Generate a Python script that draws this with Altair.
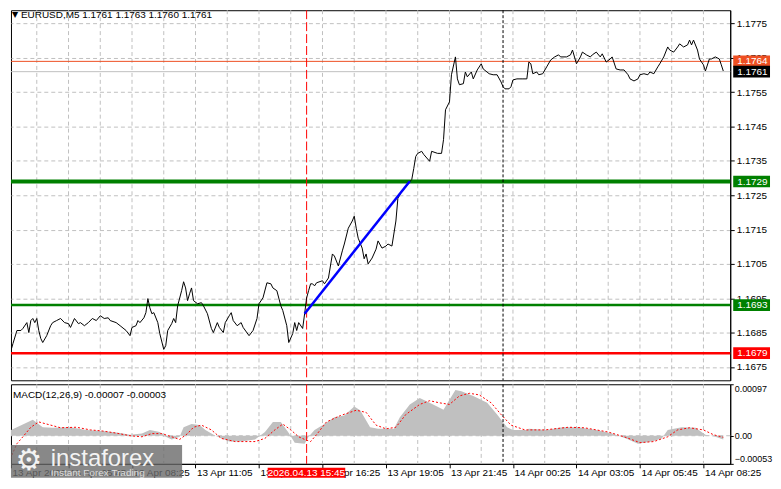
import altair as alt
import pandas as pd

# ---------------- data ----------------
price_bar = [0,2,3,5,7,8,10,11,12,13,14,15,16,17,18,20,22,23,25,27,29,31,32,34,36,37,39,41,43,45,47,49,51,52,55,57,60,62,63,65,66,67,69,70,71,72,73,74,76,77,79,80,81,83,84,85,86,88,89,90,91,92,93,94,96,98,99,101,103,104,106,107,109,110,112,113,114,116,118,119,122,124,126,127,129,131,133,134,136,138,139,141,142,144,145,146,147,149,150,151,152,153,154,155,156,159,160,162,164,165,167,169,170,172,174,175,176,177,179,180,181,182,184,186,187,189,191,192,194,196,197,199,200,202,204,205,206,207,209,210,213,214,217,219,220,221,223,224,226,227,228,230,231,232,234,235,237,239,240,243,245,247,249,250,251,253,254,255,257,260,262,263,264,265,267,268,270,272,274,276,278,279,282,284,285,287,289,290,292,294,295,297,299,300,302,304,305,307,309,311,313,314,316,318,319,321,323,324,326,328,329,331,333,334,336,338,339,341,343,344,345,346,348,349,351,352,354,355,357,359,360,361]
price_close = [1.16783,1.16798,1.16818,1.16856,1.16856,1.16862,1.16879,1.16850,1.16885,1.16891,1.16879,1.16891,1.16856,1.16833,1.16821,1.16841,1.16870,1.16879,1.16885,1.16891,1.16879,1.16876,1.16865,1.16891,1.16876,1.16879,1.16870,1.16879,1.16891,1.16885,1.16899,1.16891,1.16893,1.16885,1.16879,1.16870,1.16856,1.16841,1.16865,1.16870,1.16885,1.16879,1.16893,1.16908,1.16949,1.16922,1.16905,1.16908,1.16879,1.16847,1.16801,1.16812,1.16856,1.16876,1.16891,1.16879,1.16928,1.16972,1.16998,1.16980,1.16943,1.16963,1.16980,1.16943,1.16934,1.16937,1.16928,1.16905,1.16862,1.16850,1.16879,1.16865,1.16850,1.16879,1.16899,1.16908,1.16885,1.16870,1.16879,1.16865,1.16841,1.16856,1.16891,1.16934,1.16951,1.16995,1.16992,1.16980,1.16972,1.16928,1.16914,1.16870,1.16821,1.16847,1.16879,1.16856,1.16879,1.16862,1.16905,1.16951,1.16972,1.16992,1.16992,1.16986,1.16995,1.17001,1.16992,1.17009,1.17079,1.17073,1.17044,1.17088,1.17108,1.17154,1.17175,1.17189,1.17154,1.17125,1.17096,1.17065,1.17079,1.17050,1.17067,1.17093,1.17117,1.17096,1.17102,1.17108,1.17102,1.17175,1.17241,1.17262,1.17267,1.17282,1.17296,1.17328,1.17363,1.17372,1.17378,1.17369,1.17349,1.17378,1.17372,1.17372,1.17412,1.17499,1.17522,1.17601,1.17653,1.17589,1.17572,1.17575,1.17609,1.17595,1.17609,1.17589,1.17615,1.17633,1.17618,1.17604,1.17601,1.17601,1.17580,1.17566,1.17560,1.17560,1.17566,1.17586,1.17589,1.17589,1.17589,1.17638,1.17633,1.17604,1.17609,1.17601,1.17604,1.17624,1.17644,1.17653,1.17659,1.17653,1.17653,1.17659,1.17673,1.17633,1.17653,1.17667,1.17659,1.17653,1.17659,1.17667,1.17653,1.17662,1.17638,1.17647,1.17653,1.17618,1.17615,1.17615,1.17601,1.17589,1.17583,1.17589,1.17601,1.17604,1.17601,1.17609,1.17604,1.17624,1.17633,1.17653,1.17682,1.17673,1.17667,1.17682,1.17691,1.17682,1.17688,1.17702,1.17688,1.17702,1.17673,1.17647,1.17630,1.17612,1.17647,1.17647,1.17653,1.17647,1.17630,1.17612]

hist_bar = [0,5,13,18,23,32,40,48,57,62,68,72,77,80,83,87,89,93,97,100,105,112,118,125,130,134,138,142,145,150,152,155,160,165,170,175,178,183,187,195,198,203,208,213,220,223,226,229,235,242,247,252,255,262,263,272,280,288,297,305,312,318,325,330,333,340,347,352,357,361]
hist_val = [0.00007,0.00016,0.00030,0.00016,0.00015,0.00016,0.00011,0.00009,0.00005,0.00002,0.00004,0.00011,0.00007,-0.00002,-0.00007,-0.00002,0.00016,0.00022,0.00020,0.00011,0.0,-0.00011,-0.00011,-0.00007,0.00007,0.00026,0.00026,0.00005,-0.00013,-0.00015,-0.00002,0.00011,0.00022,0.00035,0.00038,0.00055,0.00048,0.00016,0.00013,0.00013,0.00035,0.00059,0.00071,0.00062,0.00049,0.00068,0.00086,0.00084,0.00075,0.00062,0.00040,0.00016,0.00011,0.00011,0.00013,0.00011,0.00016,0.00016,0.00011,0.00004,-0.00005,-0.00015,-0.00011,-0.00005,0.00011,0.00016,0.00015,0.00002,-0.00002,-0.00007]

sig_bar = [0,5,8,12,16,20,27,35,42,48,55,62,68,73,78,83,87,91,94,98,103,108,115,125,130,135,139,143,147,150,153,156,161,168,176,181,186,191,196,201,208,213,218,223,228,233,238,244,249,254,261,271,283,291,303,311,319,326,333,338,344,351,356,361]
sig_val = [-0.00057,-0.00015,-0.00002,0.00016,0.00026,0.00022,0.00015,0.00016,0.00011,0.00009,0.00005,0.0,-0.00002,0.00004,0.00004,-0.00002,-0.00007,0.00004,0.00016,0.00020,0.00011,-0.00005,-0.00011,-0.00011,-0.00005,0.00011,0.00022,0.00011,-0.00002,-0.00007,-0.00011,0.00002,0.00026,0.00038,0.00048,0.00044,0.00020,0.00013,0.00016,0.00040,0.00059,0.00066,0.00062,0.00059,0.00075,0.00080,0.00077,0.00062,0.00040,0.00020,0.00011,0.00011,0.00016,0.00015,0.00007,-0.00002,-0.00013,-0.00011,-0.00002,0.00011,0.00015,0.00011,0.00002,-0.00003]

blue_bar = [150, 203]
blue_price = [1.16905, 1.17291]

price_ticks = [1.1675, 1.1685, 1.1695, 1.1705, 1.1715, 1.1725, 1.1735, 1.1745, 1.1755, 1.1765, 1.1775]
macd_ticks = [-0.00053, 0.0, 0.00097]

level_values = [1.1764, 1.1761, 1.1729, 1.1693, 1.1679]
level_labels = ["1.1764", "1.1761", "1.1729", "1.1693", "1.1679"]
level_colors = ["#EE4F22", "#C0C0C0", "#008000", "#008000", "#FF0000"]
level_box_colors = ["#EE4F22", "#000000", "#008000", "#008000", "#FF0000"]
level_widths = [1, 1, 4, 2.5, 2.5]

x_tick_bars = [2, 31, 63, 95, 127, 159, 191, 223, 255, 287, 319, 351]
x_tick_labels = ["13 Apr 2026", "13 Apr 05:45", "13 Apr 08:25", "13 Apr 11:05", "13 Apr 13:45",
                 "13 Apr 16:25", "13 Apr 19:05", "13 Apr 21:45", "14 Apr 00:25", "14 Apr 03:05",
                 "14 Apr 05:45", "14 Apr 08:25"]
grid_bars = [15, 31, 47, 63, 79, 95, 111, 127, 143, 159, 175, 191, 207, 223, 239, 255, 271, 287, 303, 319, 335, 351]
event_bar_red = [151]
event_bar_day = [250]

title_text = "EURUSD,M5  1.1761 1.1763 1.1760 1.1761"
macd_title = "MACD(12,26,9) -0.00007 -0.00003"
time_label = "2026.04.13 15:45"

# ---------------- layout ----------------
W = 723
H_MAIN = 372
H_MACD = 80
FONT = "Liberation Sans"

xs = alt.Scale(domain=[2, 364.5], nice=False, zero=False)
ys_main = alt.Scale(domain=[1.16711, 1.17789], nice=False, zero=False)
ys_macd = alt.Scale(domain=[-0.00053, 0.00097], nice=False, zero=False)

price_df = pd.DataFrame({"bar": price_bar, "close": price_close})
hist_df = pd.DataFrame({"bar": hist_bar, "v": hist_val})
sig_df = pd.DataFrame({"bar": sig_bar, "v": sig_val})
blue_df = pd.DataFrame({"bar": blue_bar, "close": blue_price})
grid_df = pd.DataFrame({"bar": grid_bars})
red_df = pd.DataFrame({"bar": event_bar_red})
day_df = pd.DataFrame({"bar": event_bar_day})
level_df = pd.DataFrame({"value": level_values, "label": level_labels, "color": level_colors,
                         "box": level_box_colors, "w": level_widths})

main_axis = alt.Axis(orient="right", values=price_ticks, format=".4f", grid=True, gridColor="#c0c0c0",
                     gridDash=[4, 3], tickSize=4, tickColor="black", domainColor="black",
                     labelPadding=2, labelFontSize=10, labelFont=FONT, labelColor="black", title=None)

label_js = "[" + ",".join("'" + s + "'" for s in x_tick_labels) + "]"
vals_js = "[" + ",".join(str(v) for v in x_tick_bars) + "]"
x_axis = alt.Axis(values=x_tick_bars, labelExpr=label_js + "[indexof(" + vals_js + ", datum.value)]",
                  labelAlign="left", labelBaseline="top", tickSize=4, labelPadding=0, labelOffset=1,
                  domainColor="black", tickColor="black", grid=False, labelFontSize=10,
                  labelFont=FONT, labelColor="black", title=None, labelOverlap=False)

macd_axis = alt.Axis(orient="right", values=macd_ticks, grid=False, tickSize=3, tickColor="black",
                     domainColor="black", labelPadding=1, labelFontSize=9, labelFont=FONT,
                     labelColor="black", title=None, labelFlush=True,
                     labelExpr="datum.value == 0 ? '0.00' : format(datum.value, '.5f')")


def X(axis):
    return alt.X("bar:Q", scale=xs, axis=axis)


def vgrid(axis):
    return alt.Chart(grid_df).mark_rule(color="#c0c0c0", strokeDash=[4, 3], strokeWidth=1).encode(x=X(axis))


def events(axis):
    r = alt.Chart(red_df).mark_rule(color="#FF0000", strokeDash=[9, 3], strokeWidth=1).encode(x=X(axis))
    d = alt.Chart(day_df).mark_rule(color="#000000", strokeDash=[3, 2], strokeWidth=1).encode(x=X(axis))
    return [r, d]


# ---------------- main panel ----------------
YM = lambda f: alt.Y(f, scale=ys_main, axis=main_axis)

price_line = alt.Chart(price_df).mark_line(color="black", strokeWidth=1, clip=True).encode(
    x=X(None), y=YM("close:Q"))

level_rules = alt.Chart(level_df).mark_rule().encode(
    y=YM("value:Q"),
    color=alt.Color("color:N", scale=None),
    strokeWidth=alt.StrokeWidth("w:Q", scale=None))

blue_line = alt.Chart(blue_df).mark_line(color="#0000FF", strokeWidth=2.5).encode(
    x=X(None), y=YM("close:Q"))

level_boxes = alt.Chart(level_df).transform_calculate(
    top="datum.value + 0.00017", bot="datum.value - 0.00017"
).mark_rect().encode(
    x=alt.value(726), x2=alt.value(763),
    y=YM("top:Q"), y2="bot:Q",
    color=alt.Color("box:N", scale=None))

level_text = alt.Chart(level_df).mark_text(align="left", baseline="middle", color="white",
                                           fontSize=10, font=FONT).encode(
    x=alt.value(730), y=YM("value:Q"), text="label:N")

tri = alt.Chart(pd.DataFrame({"t": ["\u25BC"]})).mark_text(
    align="left", baseline="middle", fontSize=8, font="DejaVu Sans", color="black").encode(
    x=alt.value(1), y=alt.value(5), text="t:N")
title = alt.Chart(pd.DataFrame({"t": [title_text]})).mark_text(
    align="left", baseline="middle", fontSize=10, font=FONT, color="black").encode(
    x=alt.value(10), y=alt.value(5), text="t:N")

main = alt.layer(vgrid(None), level_rules, *events(None), price_line, blue_line, level_boxes,
                 level_text, tri, title).properties(width=W, height=H_MAIN)

# ---------------- MACD panel ----------------
YD = lambda f: alt.Y(f, scale=ys_macd, axis=macd_axis)

zero_rule = alt.Chart(pd.DataFrame({"v": [0.0]})).mark_rule(
    color="#c0c0c0", strokeDash=[4, 3]).encode(y=YD("v:Q"))

hist = alt.Chart(hist_df).mark_area(color="#C0C0C0", opacity=1, clip=True).encode(
    x=X(x_axis), y=YD("v:Q"), y2=alt.datum(0))

sig = alt.Chart(sig_df).mark_line(color="#FF0000", strokeDash=[2, 2], strokeWidth=1, clip=True).encode(
    x=X(x_axis), y=YD("v:Q"))

macd_t = alt.Chart(pd.DataFrame({"t": [macd_title]})).mark_text(
    align="left", baseline="middle", fontSize=10, font=FONT, color="black").encode(
    x=alt.value(2), y=alt.value(11), text="t:N")

tl_box = alt.Chart(pd.DataFrame({"t": [time_label]})).mark_rect(color="#FF0000").encode(
    x=alt.value(258), x2=alt.value(336), y=alt.value(84), y2=alt.value(94))
tl_text = alt.Chart(pd.DataFrame({"t": [time_label]})).mark_text(
    align="center", baseline="middle", fontSize=10, font=FONT, color="white").encode(
    x=alt.value(297), y=alt.value(89), text="t:N")

wm_box = alt.Chart(pd.DataFrame({"t": ["wm"]})).mark_rect(color="#6a6a6a", opacity=0.8).encode(
    x=alt.value(0), x2=alt.value(172), y=alt.value(61), y2=alt.value(94))
wm_gear = alt.Chart(pd.DataFrame({"t": ["\u2699"]})).mark_text(
    align="center", baseline="middle", fontSize=30, font="DejaVu Sans", color="white", opacity=0.9).encode(
    x=alt.value(18), y=alt.value(77), text="t:N")
wm_name = alt.Chart(pd.DataFrame({"t": ["instaforex"]})).mark_text(
    align="left", baseline="alphabetic", fontSize=24, font=FONT, color="white", opacity=0.9).encode(
    x=alt.value(40), y=alt.value(82), text="t:N")
wm_sub = alt.Chart(pd.DataFrame({"t": ["Instant Forex Trading"]})).mark_text(
    align="left", baseline="alphabetic", fontSize=10, font=FONT, color="#e8e8e8", opacity=0.9).encode(
    x=alt.value(40), y=alt.value(92), text="t:N")

macd = alt.layer(vgrid(x_axis), zero_rule, hist, sig, *events(x_axis), macd_t, tl_box, tl_text,
                 wm_box, wm_gear, wm_name, wm_sub).properties(width=W, height=H_MACD)

chart = alt.vconcat(main, macd, spacing=2).properties(
    padding=0, background="white"
).configure_view(stroke="black", strokeWidth=1)

chart.save("out.html", embed_options={"renderer": "svg", "actions": False})
